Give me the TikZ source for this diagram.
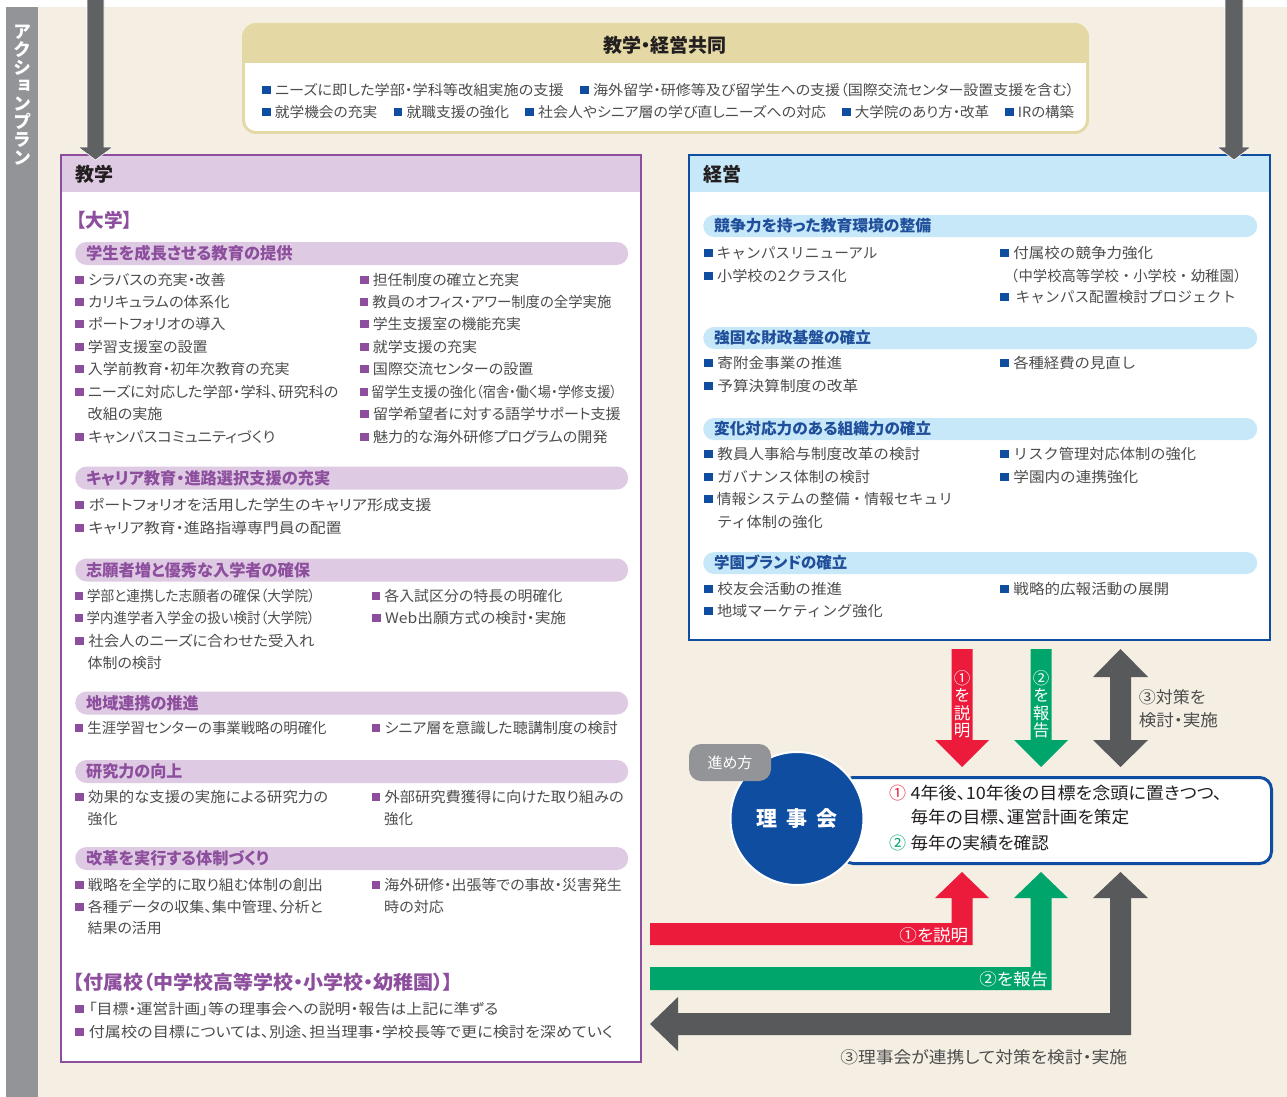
\documentclass[tikz,border=0pt]{standalone}
\usepackage{graphicx}
\usepackage{fontspec}
\setmainfont{Noto Sans CJK JP}[RawFeature=+palt]
\newfontfamily\fullfont{Noto Sans CJK JP}
\newfontfamily\vfont{Noto Sans CJK JP}[RawFeature=+vert]
\definecolor{cream}{HTML}{F5EFE3}
\definecolor{barg}{HTML}{929497}
\definecolor{arrg}{HTML}{606163}
\definecolor{tanC}{HTML}{E4D8A4}
\definecolor{purp}{HTML}{8D4E9E}
\definecolor{lav}{HTML}{DECBE3}
\definecolor{blu}{HTML}{0E4DA0}
\definecolor{bluT}{HTML}{1F4E9A}
\definecolor{lblu}{HTML}{C7E8F8}
\definecolor{txt}{HTML}{4D4D4D}
\definecolor{dark}{HTML}{231F20}
\definecolor{redA}{HTML}{EC1A3B}
\definecolor{grnA}{HTML}{00A56B}
\definecolor{grayA}{HTML}{58595B}
\newcommand\FS[1]{\fontsize{#1}{#1}\selectfont}
\newcommand\bp{\textcolor{purp}{\rule[1.2pt]{8.3pt}{8.3pt}}\hspace{4pt}}
\newcommand\bb{\textcolor{blu}{\rule[1.2pt]{8.3pt}{8.3pt}}\hspace{4pt}}
\newsavebox\fitbox
\newdimen\fitd
\newcommand\fitw[2]{\sbox\fitbox{#2}\fitd=\wd\fitbox\pgfmathsetmacro\fitsc{#1/\the\fitd}\scalebox{\fitsc}[1]{\usebox\fitbox}}
\newcounter{tn}
% \IT[style]{x start}{y centre}{x end}{text}
\newcommand\IT[5][item]{\stepcounter{tn}\pgfmathsetmacro\tw{#4-#2}\node[#1] (t\arabic{tn}) at (#2,#3) {\fitw{\tw}{#5}};}
\tikzset{
  item/.style={anchor=base west, inner sep=0pt, yshift=-5.3pt, text=txt, font=\FS{14.5}},
  itemB/.style={anchor=base west, inner sep=0pt, yshift=-5.3pt, text=txt, font=\fullfont\FS{14.5}},
  itemT/.style={anchor=base west, inner sep=0pt, yshift=-5.2pt, text=txt, font=\FS{14.2}},
  itemR/.style={anchor=base west, inner sep=0pt, yshift=-6.3pt, text=dark, font=\FS{17}},
  itemW/.style={anchor=base west, inner sep=0pt, yshift=-6pt, text=white, font=\FS{16.5}},
  itemG/.style={anchor=base west, inner sep=0pt, yshift=-6pt, text=txt, font=\FS{16.5}},
  pillP/.style={fill=lav, rounded corners=11.5pt, minimum width=553pt, minimum height=23pt, inner sep=0pt, anchor=west},
  pillB/.style={fill=lblu, rounded corners=11pt, minimum width=554pt, minimum height=22pt, inner sep=0pt, anchor=west},
  ptxtP/.style={anchor=base west, inner sep=0pt, yshift=-6pt, text=purp, font=\bfseries\FS{16.3}},
  ptxtB/.style={anchor=base west, inner sep=0pt, yshift=-5.8pt, text=bluT, font=\bfseries\FS{15.5}},
  headT/.style={anchor=base west, inner sep=0pt, yshift=-7pt, text=dark, font=\bfseries\FS{19}},
  vtxt/.style={align=center, inner sep=0pt, text=white, font=\vfont\FS{16.5}},
  blockR/.style={fill=redA},
  blockG/.style={fill=grnA},
  blockK/.style={fill=grayA},
}
\begin{document}
\begin{tikzpicture}[x=1pt,y=-1pt]
\useasboundingbox (0,0) rectangle (1287,1097);
\fill[white] (0,0) rectangle (1287,1097);
\fill[cream] (38,7) rectangle (1287,1097);
\fill[barg] (6,7) rectangle (38,1097);
\node[vtxt, font=\vfont\bfseries\FS{18}] (ap) at (22,95) {ア\\[0pt]ク\\[0pt]シ\\[0pt]ョ\\[0pt]ン\\[0pt]プ\\[0pt]ラ\\[0pt]ン};

% ---------- top joint box
\fill[tanC, rounded corners=14pt] (242,23) rectangle (1089,134);
\fill[white, rounded corners=11pt] (245,50) rectangle (1086,131);
\fill[tanC] (245,49) rectangle (1086,63);
\node[text=dark, font=\bfseries\FS{19}, inner sep=0pt] (joint) at (665,45.5) {教学・経営共同};
\IT[itemT]{262}{90}{563.6}{\bb ニーズに即した学部・学科等改組実施の支援}
\IT[itemT]{580}{90}{1074}{\bb 海外留学・研修等及び留学生への支援（国際交流センター設置支援を含む）}
\IT[itemT]{262}{112}{377}{\bb 就学機会の充実}
\IT[itemT]{393.6}{112}{509}{\bb 就職支援の強化}
\IT[itemT]{525}{112}{826}{\bb 社会人やシニア層の学び直しニーズへの対応}
\IT[itemT]{842}{112}{989}{\bb 大学院のあり方・改革}
\IT[itemT]{1005}{112}{1074}{\bb IRの構築}

% ---------- 教学 box
\fill[white] (61,155) rectangle (641,1062);
\fill[lav] (61,155) rectangle (641,192);
\draw[purp, line width=2pt] (61,155) rectangle (641,1062);
\node[headT] (kyo) at (75,174) {教学};
\IT[headT, text=purp]{76}{220}{132}{【大学】}

\node[pillP] (pp1) at (75,253.5) {};
\IT[ptxtP]{86}{253.5}{292.5}{学生を成長させる教育の提供}
\IT{75}{280}{225.5}{\bp シラバスの充実・改善}
\IT{75}{302}{229.3}{\bp カリキュラムの体系化}
\IT{75}{324}{225.5}{\bp ポートフォリオの導入}
\IT{75}{347}{207.5}{\bp 学習支援室の設置}
\IT{75}{369}{289.5}{\bp 入学前教育・初年次教育の充実}
\IT{75}{392}{338.4}{\bp ニーズに対応した学部・学科、研究科の}
\IT{87.5}{414}{162.3}{改組の実施}
\IT{75}{437}{275.2}{\bp キャンパスコミュニティづくり}
\IT{360}{280}{519}{\bp 担任制度の確立と充実}
\IT{360}{302}{611.2}{\bp 教員のオフィス・アワー制度の全学実施}
\IT{360}{324}{520.9}{\bp 学生支援室の機能充実}
\IT{360}{347}{476.9}{\bp 就学支援の充実}
\IT{360}{369}{533.3}{\bp 国際交流センターの設置}
\IT{360}{392}{616.8}{\bp 留学生支援の強化（宿舎・働く場・学修支援）}
\IT{360}{414}{620.6}{\bp 留学希望者に対する語学サポート支援}
\IT{360}{437}{607.4}{\bp 魅力的な海外研修プログラムの開発}

\node[pillP] (pp2) at (75,478) {};
\IT[ptxtP]{86}{478}{330}{キャリア教育・進路選択支援の充実}
\IT{75}{505}{431.3}{\bp ポートフォリオを活用した学生のキャリア形成支援}
\IT{75}{528}{341.4}{\bp キャリア教育・進路指導専門員の配置}

\node[pillP] (pp3) at (75,570) {};
\IT[ptxtP]{86}{570}{310}{志願者増と優秀な入学者の確保}
\IT{75}{596}{315.1}{\bp 学部と連携した志願者の確保（大学院）}
\IT{75}{618}{314.3}{\bp 学内進学者入学金の扱い検討（大学院）}
\IT{75}{641}{314.3}{\bp 社会人のニーズに合わせた受入れ}
\IT{87.5}{663}{161.6}{体制の検討}
\IT{371.5}{596}{562.3}{\bp 各入試区分の特長の明確化}
\IT{371.5}{618}{566}{\bp Web出願方式の検討・実施}

\node[pillP] (pp4) at (75,703) {};
\IT[ptxtP]{86}{703}{198.5}{地域連携の推進}
\IT{75}{728}{326.4}{\bp 生涯学習センターの事業戦略の明確化}
\IT{371.5}{728}{617.6}{\bp シニア層を意識した聴講制度の検討}

\node[pillP] (pp5) at (75,771.5) {};
\IT[ptxtP]{86}{771.5}{182.3}{研究力の向上}
\IT{75}{797}{327.9}{\bp 効果的な支援の実施による研究力の}
\IT{87.5}{819}{117.2}{強化}
\IT{371.5}{797}{623.6}{\bp 外部研究費獲得に向けた取り組みの}
\IT{384}{819}{412.9}{強化}

\node[pillP] (pp6) at (75,858.5) {};
\IT[ptxtP]{86}{858.5}{268.8}{改革を実行する体制づくり}
\IT{75}{885}{322.6}{\bp 戦略を全学的に取り組む体制の創出}
\IT{75}{907}{322.6}{\bp 各種データの収集、集中管理、分析と}
\IT{87.5}{928}{161.6}{結果の活用}
\IT{371.5}{885}{621.7}{\bp 海外研修・出張等での事故・災害発生}
\IT{384}{907}{443.7}{時の対応}

\IT[headT, text=purp]{73.2}{982}{453.2}{【付属校（中学校高等学校・小学校・幼稚園）】}
\IT{75}{1009}{498.3}{\bp 「目標・運営計画」等の理事会への説明・報告は上記に準ずる}
\IT{75}{1032}{613}{\bp 付属校の目標については、別途、担当理事・学校長等で更に検討を深めていく}

% ---------- 経営 box
\fill[white] (689,155) rectangle (1270,640);
\fill[lblu] (689,155) rectangle (1270,192);
\draw[blu, line width=2pt] (689,155) rectangle (1270,640);
\node[headT] (kei) at (703,174) {経営};

\node[pillB] (pb1) at (703,226) {};
\IT[ptxtB]{714}{226}{931}{競争力を持った教育環境の整備}
\IT[itemB]{704}{253}{877.4}{\bb キャンパスリニューアル}
\IT[itemB]{704}{276}{846.5}{\bb 小学校の2クラス化}
\IT[itemB]{1000}{253}{1153}{\bb 付属校の競争力強化}
\IT[itemB]{1004}{276}{1248}{（中学校高等学校・小学校・幼稚園）}
\IT[itemB]{1000}{297}{1236}{\bb\hspace{3pt}キャンパス配置検討プロジェクト}

\node[pillB] (pb2) at (703,338) {};
\IT[ptxtB]{714}{338}{871}{強固な財政基盤の確立}
\IT[itemB]{704}{363}{842}{\bb 寄附金事業の推進}
\IT[itemB]{704}{386}{858}{\bb 予算決算制度の改革}
\IT[itemB]{1000}{363}{1136}{\bb 各種経費の見直し}

\node[pillB] (pb3) at (703,429) {};
\IT[ptxtB]{714}{429}{931}{変化対応力のある組織力の確立}
\IT[itemB]{704}{454}{920}{\bb 教員人事給与制度改革の検討}
\IT[itemB]{704}{477}{870}{\bb ガバナンス体制の検討}
\IT[itemB]{704}{499}{953}{\bb 情報システムの整備・情報セキュリ}
\IT[itemB]{717}{522}{822.5}{ティ体制の強化}
\IT[itemB]{1000}{454}{1196}{\bb リスク管理対応体制の強化}
\IT[itemB]{1000}{477}{1138}{\bb 学園内の連携強化}

\node[pillB] (pb4) at (703,563) {};
\IT[ptxtB]{714}{563}{847}{学園ブランドの確立}
\IT[itemB]{704}{589}{842}{\bb 校友会活動の推進}
\IT[itemB]{704}{611}{882.5}{\bb 地域マーケティング強化}
\IT[itemB]{1000}{589}{1169}{\bb 戦略的広報活動の展開}

% ---------- top arrows
\filldraw[fill=arrg, draw=white, line width=0.6pt] (87,-2) -- (87,147) -- (78,147) -- (95.5,160) -- (113,147) -- (104,147) -- (104,-2) -- cycle;
\filldraw[fill=arrg, draw=white, line width=0.6pt] (1225,-2) -- (1225,147) -- (1217,147) -- (1234,160) -- (1251,147) -- (1243,147) -- (1243,-2) -- cycle;

% ---------- middle arrows
\fill[blockR] (951.5,649) -- (951.5,740) -- (935,740) -- (962,767) -- (989,740) -- (972.5,740) -- (972.5,649) -- cycle;
\fill[blockG] (1030.5,649) -- (1030.5,740) -- (1014,740) -- (1041,767) -- (1068,740) -- (1051.5,740) -- (1051.5,649) -- cycle;
\fill[blockK] (1120.5,649) -- (1148,677) -- (1131,677) -- (1131,740) -- (1148,740) -- (1120.5,767) -- (1093,740) -- (1110,740) -- (1110,677) -- (1093,677) -- cycle;
\node[vtxt] (v1) at (962,704) {①\\[1pt]を\\[1pt]説\\[1pt]明};
\node[vtxt] (v2) at (1041,704) {②\\[1pt]を\\[1pt]報\\[1pt]告};
\IT[itemG]{1138.6}{697}{1205.4}{③対策を}
\IT[itemG]{1138.6}{720}{1217.8}{検討・実施}

% ---------- bottom arrows
\fill[blockR] (650,923) -- (951.5,923) -- (951.5,898) -- (935,898) -- (962,872) -- (989,898) -- (972.5,898) -- (972.5,945) -- (650,945) -- cycle;
\fill[blockG] (650,967) -- (1030.5,967) -- (1030.5,898) -- (1014,898) -- (1041,872) -- (1068,898) -- (1051.5,898) -- (1051.5,990) -- (650,990) -- cycle;
\fill[blockK] (650,1024) -- (678,997) -- (678,1013) -- (1110,1013) -- (1110,898) -- (1093,898) -- (1120.5,872) -- (1148,898) -- (1131,898) -- (1131,1035) -- (678,1035) -- (678,1051) -- cycle;
\IT[itemW]{899.2}{935}{968.1}{①を説明}
\IT[itemW]{979.2}{979}{1047.8}{②を報告}
\IT[itemG]{840.2}{1057}{1127}{③理事会が連携して対策を検討・実施}

% ---------- board
\node[draw=blu, line width=3pt, fill=white, rounded corners=12pt, minimum width=430pt, minimum height=86pt, anchor=north west, inner sep=0pt] (plan) at (840,776) {};
\node[circle, fill=blu, draw=white, line width=2pt, minimum size=133pt, inner sep=0pt, text=white, font=\bfseries\FS{21}] (rj) at (797,818.5) {理\hspace{9pt}事\hspace{9pt}会};
\node[fill=barg, rounded corners=12pt, minimum width=82pt, minimum height=37pt, inner sep=0pt, text=white, font=\FS{15}] (sus) at (730,762.5) {進め方};
\node[itemR, text=redA] (n1) at (889,793) {①};
\IT[itemR]{910.3}{793}{1221.9}{4年後、10年後の目標を念頭に置きつつ、}
\IT[itemR]{910.3}{817}{1129}{毎年の目標、運営計画を策定}
\node[itemR, text=grnA] (n2) at (889,843) {②};
\IT[itemR]{910.3}{843}{1048.6}{毎年の実績を確認}
\end{tikzpicture}
\end{document}
